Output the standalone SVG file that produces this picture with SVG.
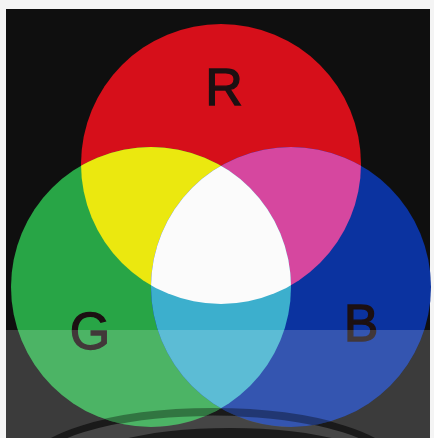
<svg xmlns="http://www.w3.org/2000/svg" width="434" height="438" viewBox="0 0 434 438">
  <defs>
    <style>
      .lbl { font-family: "Liberation Sans", Arial, sans-serif; font-size: 52px; fill: #1c1012; stroke: #1c1012; stroke-width: 1.3; text-anchor: middle; }
    </style>
    <clipPath id="cR"><circle cx="221" cy="164" r="140"/></clipPath>
    <clipPath id="cG"><circle cx="151" cy="287" r="140"/></clipPath>
    <clipPath id="cB"><circle cx="291" cy="287" r="140"/></clipPath>
    <clipPath id="cAll">
      <circle cx="221" cy="164" r="140"/>
      <circle cx="151" cy="287" r="140"/>
      <circle cx="291" cy="287" r="140"/>
    </clipPath>
  </defs>
  <rect x="0" y="0" width="434" height="438" fill="#f4f4f4"/>
  <rect x="6" y="9" width="424" height="429" fill="#0f0f0f"/>
  <rect x="6" y="330" width="424" height="108" fill="#3b3b3b"/>
  <ellipse cx="213" cy="470" rx="185" ry="58" fill="#454545" stroke="#1a1a1a" stroke-width="7"/>
  <ellipse cx="230" cy="472" rx="160" ry="44" fill="#1c1c1c"/>

  <g id="R"><circle cx="221" cy="164" r="140" fill="#d60f1a"/></g>
  <g id="G"><circle cx="151" cy="287" r="140" fill="#28a546"/></g>
  <g id="B"><circle cx="291" cy="287" r="140" fill="#0b33a0"/></g>

  <g id="overlaps">
    <g id="yellow" clip-path="url(#cR)"><circle cx="151" cy="287" r="140" fill="#ebe80f"/></g>
    <g id="magenta" clip-path="url(#cR)"><circle cx="291" cy="287" r="140" fill="#d6479f"/></g>
    <g id="cyan" clip-path="url(#cG)"><circle cx="291" cy="287" r="140" fill="#3cafcd"/></g>
    <g id="white" clip-path="url(#cR)"><g clip-path="url(#cG)"><circle cx="291" cy="287" r="140" fill="#fbfbfb"/></g></g>
  </g>

  <g id="labels">
    <text class="lbl" x="224" y="105">R</text>
    <text class="lbl" x="90" y="349">G</text>
    <text class="lbl" x="361" y="341">B</text>
  </g>

  <g clip-path="url(#cAll)">
    <rect x="6" y="330" width="424" height="108" fill="#ffffff" fill-opacity="0.17"/>
    <ellipse cx="213" cy="470" rx="185" ry="58" fill="none" stroke="#000" stroke-opacity="0.35" stroke-width="8"/>
  </g>
</svg>
